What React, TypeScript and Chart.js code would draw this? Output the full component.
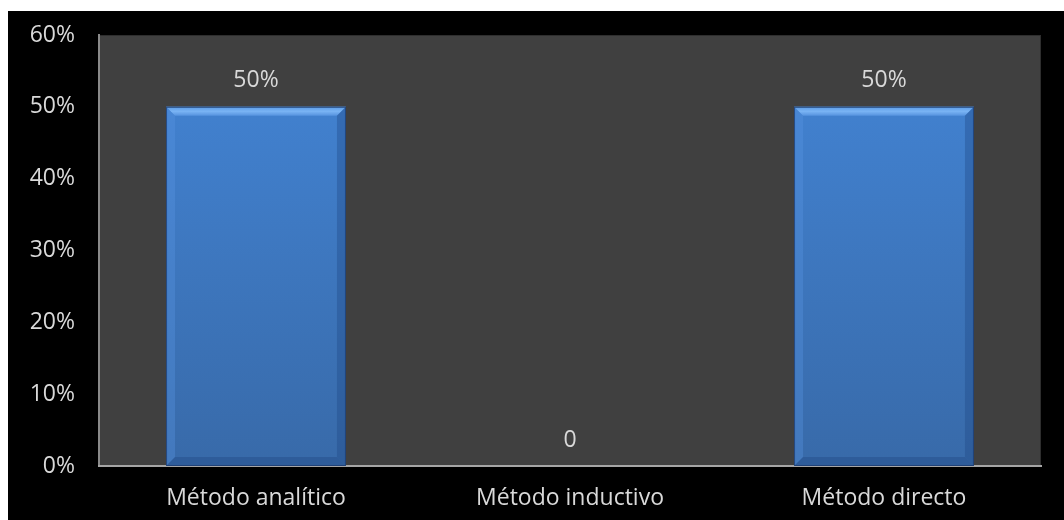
import React, { useEffect, useRef } from "react";
import { Chart, registerables } from "chart.js";

Chart.register(...registerables);

const categories: string[] = ["Método analítico", "Método inductivo", "Método directo"];
const shares: number[] = [50, 0, 50];
const yTicks: number[] = [0, 10, 20, 30, 40, 50, 60];

const FONT = "'Open Sans', sans-serif";
const FONT_SIZE = 23;
const TEXT = "#d9d9d9";

const plotBackground = {
  id: "plotBackground",
  beforeDraw(chart: any) {
    const { ctx, chartArea: a } = chart;
    ctx.save();
    ctx.fillStyle = "#404040";
    ctx.fillRect(a.left, a.top, a.right - a.left, a.bottom - a.top);
    ctx.strokeStyle = "#2e2e2e";
    ctx.lineWidth = 1;
    ctx.strokeRect(a.left + 0.5, a.top + 0.5, a.right - a.left - 1, a.bottom - a.top - 1);
    ctx.restore();
  },
};

// Bevelled look on each bar, drawn over the element geometry
const bevel = {
  id: "bevel",
  afterDatasetsDraw(chart: any) {
    const { ctx } = chart;
    const meta = chart.getDatasetMeta(0);
    meta.data.forEach((bar: any) => {
      const { x, y, base, width } = bar.getProps(["x", "y", "base", "width"], true);
      const h = base - y;
      if (h < 2) return;
      const l = x - width / 2;
      const r = x + width / 2;
      const b = Math.min(9, h / 2);
      ctx.save();
      // top facet
      const tg = ctx.createLinearGradient(0, y, 0, y + b);
      tg.addColorStop(0, "#5b9be6");
      tg.addColorStop(0.5, "#7ab4f4");
      tg.addColorStop(1, "#5592de");
      ctx.fillStyle = tg;
      ctx.beginPath();
      ctx.moveTo(l, y);
      ctx.lineTo(r, y);
      ctx.lineTo(r - b, y + b);
      ctx.lineTo(l + b, y + b);
      ctx.closePath();
      ctx.fill();
      // left facet
      ctx.fillStyle = "rgba(90,150,225,0.35)";
      ctx.beginPath();
      ctx.moveTo(l, y);
      ctx.lineTo(l + b, y + b);
      ctx.lineTo(l + b, base - b);
      ctx.lineTo(l, base);
      ctx.closePath();
      ctx.fill();
      // right facet
      ctx.fillStyle = "rgba(30,70,130,0.35)";
      ctx.beginPath();
      ctx.moveTo(r, y);
      ctx.lineTo(r - b, y + b);
      ctx.lineTo(r - b, base - b);
      ctx.lineTo(r, base);
      ctx.closePath();
      ctx.fill();
      // bottom facet
      ctx.fillStyle = "rgba(35,75,135,0.45)";
      ctx.beginPath();
      ctx.moveTo(l, base);
      ctx.lineTo(l + b, base - b);
      ctx.lineTo(r - b, base - b);
      ctx.lineTo(r, base);
      ctx.closePath();
      ctx.fill();
      // thin outline
      ctx.strokeStyle = "rgba(30,60,110,0.8)";
      ctx.lineWidth = 1;
      ctx.strokeRect(l + 0.5, y + 0.5, width - 1, h - 1);
      ctx.restore();
    });
  },
};

const valueLabels = {
  id: "valueLabels",
  afterDatasetsDraw(chart: any) {
    const { ctx } = chart;
    const meta = chart.getDatasetMeta(0);
    const data = chart.data.datasets[0].data as number[];
    ctx.save();
    ctx.font = `${FONT_SIZE}px ${FONT}`;
    ctx.fillStyle = TEXT;
    ctx.textAlign = "center";
    ctx.textBaseline = "middle";
    meta.data.forEach((bar: any, i: number) => {
      const v = data[i];
      const text = v === 0 ? "0" : `${v}%`;
      ctx.fillText(text, bar.x, bar.y - 26);
    });
    ctx.restore();
  },
};

export default function App() {
  const ref = useRef<HTMLCanvasElement | null>(null);

  useEffect(() => {
    if (!ref.current) return;
    const chart = new Chart(ref.current, {
      type: "bar",
      data: {
        labels: categories,
        datasets: [
          {
            data: shares,
            backgroundColor: (c: any) => {
              const area = c.chart.chartArea;
              if (!area) return "#4080d0";
              const g = c.chart.ctx.createLinearGradient(0, area.top, 0, area.bottom);
              g.addColorStop(0, "#4385d6");
              g.addColorStop(1, "#386aa9");
              return g;
            },
            borderWidth: 0,
            categoryPercentage: 1,
            barPercentage: 0.573,
          },
        ],
      },
      options: {
        animation: false,
        responsive: true,
        maintainAspectRatio: false,
        layout: { padding: { top: 24, right: 23, left: 0, bottom: 0 } },
        plugins: { legend: { display: false }, tooltip: { enabled: false } },
        scales: {
          y: {
            min: 0,
            max: 60,
            afterFit: (s: any) => {
              s.width = 91;
              s.paddingTop = 0;
              s.paddingBottom = 0;
            },
            afterBuildTicks: (s: any) => {
              s.ticks = yTicks.map((v) => ({ value: v }));
            },
            grid: { display: false, drawTicks: false },
            border: { display: true, color: "#8a8a8a", width: 2 },
            ticks: {
              padding: 24,
              color: TEXT,
              font: { family: FONT, size: FONT_SIZE },
              callback: (v: any) => `${v}%`,
            },
          },
          x: {
            afterFit: (s: any) => {
              s.height = 54;
            },
            grid: { display: false, drawTicks: false },
            border: { display: true, color: "#a6a6a6", width: 2 },
            ticks: {
              padding: 19,
              color: TEXT,
              font: { family: FONT, size: FONT_SIZE },
            },
          },
        },
      },
      plugins: [plotBackground, bevel, valueLabels],
    });
    return () => chart.destroy();
  }, []);

  return (
    <div
      style={{
        position: "fixed",
        left: 8,
        top: 11,
        right: 0,
        bottom: 0,
        background: "#000",
      }}
    >
      <canvas ref={ref} />
    </div>
  );
}
